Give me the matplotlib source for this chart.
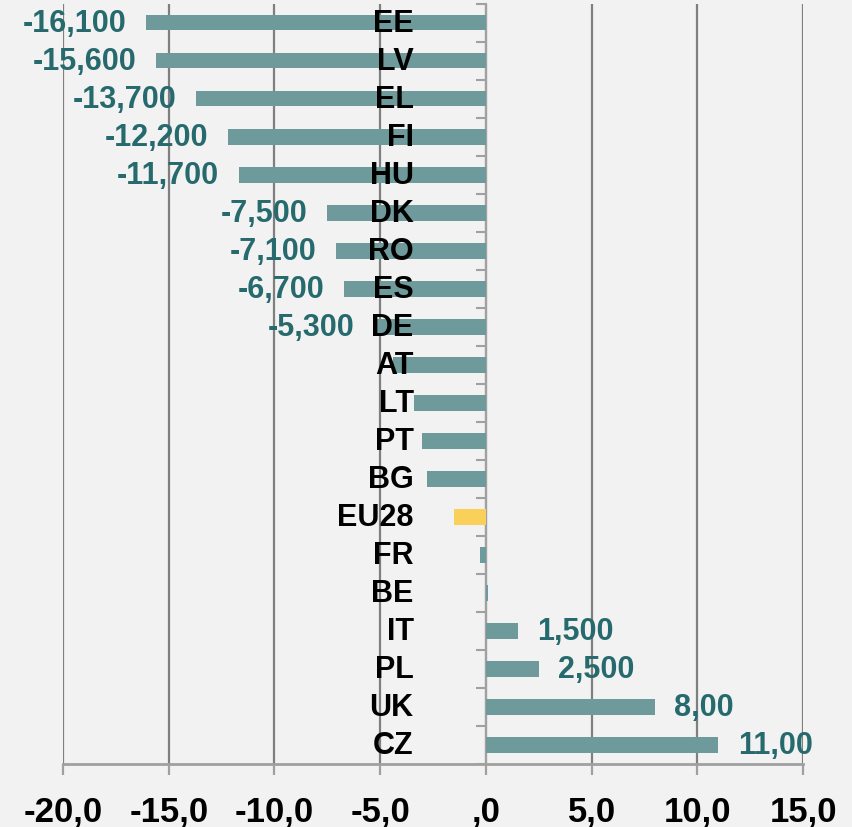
import numpy as np
import matplotlib.pyplot as plt
from matplotlib.ticker import FuncFormatter

countries = ['EE', 'LV', 'EL', 'FI', 'HU', 'DK', 'RO', 'ES', 'DE', 'AT',
             'LT', 'PT', 'BG', 'EU28', 'FR', 'BE', 'IT', 'PL', 'UK', 'CZ']
values = [-16.1, -15.6, -13.7, -12.2, -11.7, -7.5, -7.1, -6.7, -5.3, -4.4,
          -3.4, -3.0, -2.8, -1.5, -0.3, 0.1, 1.5, 2.5, 8.0, 11.0]
value_labels = ['-16,100', '-15,600', '-13,700', '-12,200', '-11,700', '-7,500',
                '-7,100', '-6,700', '-5,300', '', '', '', '', '', '', '',
                '1,500', '2,500', '8,00', '11,00']

teal = '#6f9a9b'
dark_teal = '#276a6d'
yellow = '#f9d15a'
grid_grey = '#7f7f7f'
axis_grey = '#a0a0a0'

plt.rcParams['font.family'] = ['Liberation Sans', 'DejaVu Sans']

fig = plt.figure(figsize=(8.52, 8.28), dpi=100, facecolor='#f2f2f2')
ax = fig.add_axes([0.074, 0.0761, 0.8685, 0.918])
ax.set_facecolor('#f2f2f2')

y = np.arange(len(countries))
colors = [yellow if c == 'EU28' else teal for c in countries]
ax.barh(y, values, height=0.4, color=colors, zorder=3)

ax.set_xlim(-20, 15)
ax.set_ylim(len(countries) - 0.5, -0.5)
ax.set_xticks(np.arange(-20, 16, 5))

def fmt(v, pos):
    s = f'{v:.1f}'.replace('.', ',')
    if s.startswith('0,'):
        s = s[1:]
    return s

ax.xaxis.set_major_formatter(FuncFormatter(fmt))
ax.grid(axis='x', color=grid_grey, linewidth=1.6, zorder=1)
ax.set_axisbelow(True)

for side in ['top', 'right']:
    ax.spines[side].set_visible(False)
ax.spines['left'].set_position(('data', 0))
ax.spines['left'].set_color(axis_grey)
ax.spines['left'].set_linewidth(1.5)
ax.spines['bottom'].set_color(axis_grey)
ax.spines['bottom'].set_linewidth(2)

ax.set_yticks(np.arange(-0.5, len(countries), 1.0))
ax.set_yticklabels([])
ax.tick_params(axis='y', length=7, width=1.5, color=axis_grey, direction='out')
ax.tick_params(axis='x', length=8, width=1.6, color=axis_grey, pad=14,
               labelsize=25)
for lab in ax.get_xticklabels():
    lab.set_fontweight('bold')

# country names right-aligned left of the zero line
for i, c in enumerate(countries):
    ax.annotate(c, xy=(0, i), xytext=(-52, 0), textcoords='offset points',
                ha='right', va='center', fontsize=22, fontweight='bold',
                color='black', zorder=5)

# value labels
for i, (v, lab) in enumerate(zip(values, value_labels)):
    if not lab:
        continue
    off = 14 if v > 0 else -14
    ax.annotate(lab, xy=(v, i), xytext=(off, 0), textcoords='offset points',
                ha='left' if v > 0 else 'right', va='center', fontsize=22,
                fontweight='bold', color=dark_teal, zorder=5)

fig.savefig('out.png', dpi=100, facecolor=fig.get_facecolor())
